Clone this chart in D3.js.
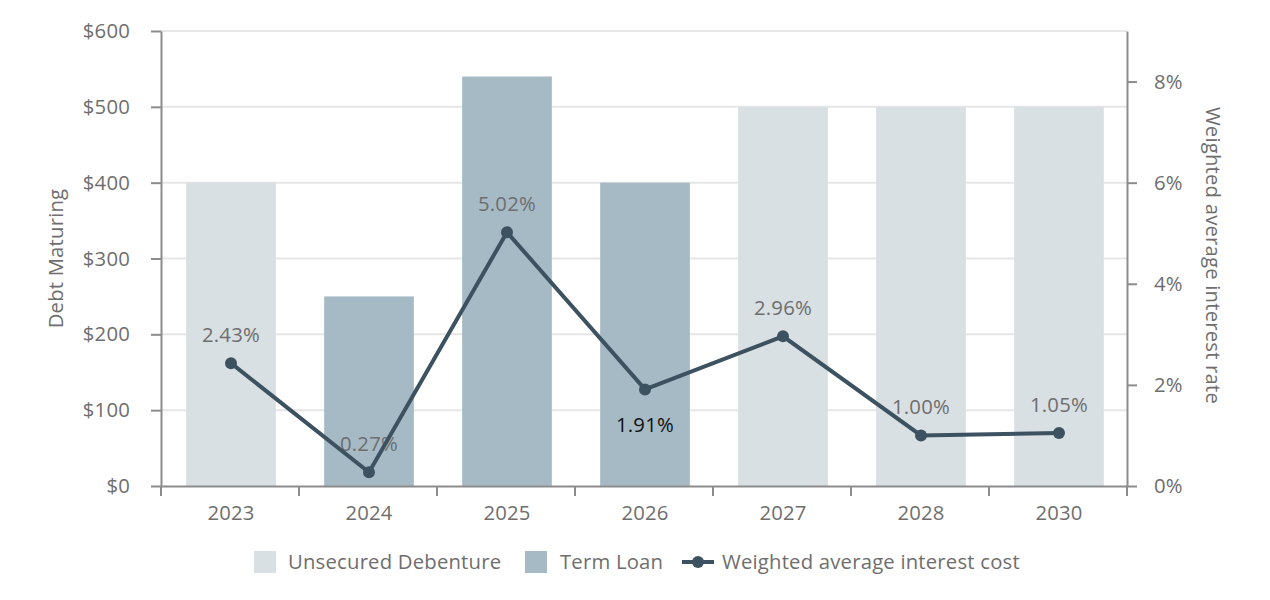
<!DOCTYPE html>
<html>
<head>
<meta charset="utf-8">
<script src="https://cdn.jsdelivr.net/npm/d3@7"></script>
<style>
  body { margin: 0; background: #fff; }
  text { font-family: "Open Sans", Lato, sans-serif; letter-spacing: 0.2px; }
</style>
</head>
<body>
<svg id="chart" width="1270" height="600"></svg>
<script>
const years = ["2023", "2024", "2025", "2026", "2027", "2028", "2030"];
const debtType = ["Unsecured Debenture", "Term Loan", "Term Loan", "Term Loan", "Unsecured Debenture", "Unsecured Debenture", "Unsecured Debenture"];
const debtAmount = [400, 250, 540, 400, 500, 500, 500];
const rates = [2.43, 0.27, 5.02, 1.91, 2.96, 1.00, 1.05];
const debtTicks = [0, 100, 200, 300, 400, 500, 600];
const rateTicks = [0, 2, 4, 6, 8];

const colors = { "Unsecured Debenture": "#d9e0e3", "Term Loan": "#a6bac6" };
const lineColor = "#3d5261";
const textColor = "#6e6e6e";
const fontSize = 20.3;

const svg = d3.select("#chart");
const margin = { top: 31, right: 143, bottom: 114, left: 161 };
const width = 1270 - margin.left - margin.right;
const height = 600 - margin.top - margin.bottom;

const g = svg.append("g").attr("transform", `translate(${margin.left},${margin.top})`);

const x = d3.scaleBand().domain(years).range([0, width]).paddingInner(0.35).paddingOuter(0.175);
const y = d3.scaleLinear().domain([0, 600]).range([height, 0]);
const yR = d3.scaleLinear().domain([0, 9]).range([height, 0]);

// grid
g.selectAll(".grid")
  .data(debtTicks.slice(1))
  .join("line")
  .attr("x1", 0)
  .attr("x2", width)
  .attr("y1", (d) => y(d))
  .attr("y2", (d) => y(d))
  .attr("stroke", "#e6e6e6")
  .attr("stroke-width", 2);

// bars
g.selectAll(".bar")
  .data(years)
  .join("rect")
  .attr("x", (d) => x(d) + 1)
  .attr("width", x.bandwidth())
  .attr("y", (d, i) => y(debtAmount[i]))
  .attr("height", (d, i) => height - y(debtAmount[i]))
  .attr("fill", (d, i) => colors[debtType[i]]);

// value labels (drawn under the line)
g.selectAll(".lbl")
  .data(years)
  .join("text")
  .attr("x", (d) => x(d) + x.bandwidth() / 2 + 1)
  .attr("y", (d, i) => (i === 3 ? yR(rates[i]) + 43 : yR(rates[i]) - 21))
  .attr("text-anchor", "middle")
  .attr("font-size", fontSize)
  .attr("fill", (d, i) => (i === 3 ? "#111" : textColor))
  .text((d, i) => rates[i].toFixed(2) + "%");

// line
const line = d3.line()
  .x((d, i) => x(years[i]) + x.bandwidth() / 2 + 1)
  .y((d) => yR(d));
g.append("path")
  .datum(rates)
  .attr("d", line)
  .attr("fill", "none")
  .attr("stroke", lineColor)
  .attr("stroke-width", 4);
g.selectAll(".dot")
  .data(rates)
  .join("circle")
  .attr("cx", (d, i) => x(years[i]) + x.bandwidth() / 2 + 1)
  .attr("cy", (d) => yR(d))
  .attr("r", 6)
  .attr("fill", lineColor);

// axes
function styleAxis(sel) {
  sel.selectAll("path, line").attr("stroke", "#8c8c8c").attr("stroke-width", 2);
  sel.selectAll("text").attr("fill", textColor).attr("font-size", fontSize).style("font-family", "'Open Sans', sans-serif");
}

const leftAxis = g.append("g")
  .call(d3.axisLeft(y).tickValues(debtTicks).tickFormat((d) => "$" + d).tickSize(10).tickSizeOuter(0).tickPadding(21));
styleAxis(leftAxis);

const rightAxis = g.append("g")
  .attr("transform", `translate(${width},0)`)
  .call(d3.axisRight(yR).tickValues(rateTicks).tickFormat((d) => d + "%").tickSize(10).tickSizeOuter(0).tickPadding(17));
styleAxis(rightAxis);

const bottomAxis = g.append("g")
  .attr("transform", `translate(0,${height})`)
  .call(d3.axisBottom(x).tickSize(0).tickSizeOuter(0).tickPadding(20));
styleAxis(bottomAxis);
bottomAxis.selectAll(".tick text").attr("dx", 1);
bottomAxis.selectAll(".tick line").remove();
const step = x.step();
bottomAxis.selectAll(".sep")
  .data(d3.range(years.length + 1))
  .join("line")
  .attr("x1", (d) => d * step)
  .attr("x2", (d) => d * step)
  .attr("y1", 0)
  .attr("y2", 10)
  .attr("stroke", "#8c8c8c")
  .attr("stroke-width", 2);

// axis titles
svg.append("text")
  .attr("transform", `translate(63,${margin.top + height / 2}) rotate(-90)`)
  .attr("text-anchor", "middle")
  .attr("font-size", fontSize)
  .attr("fill", textColor)
  .text("Debt Maturing");
svg.append("text")
  .attr("transform", `translate(1206,${margin.top + height / 2 - 3}) rotate(90)`)
  .attr("text-anchor", "middle")
  .attr("font-size", fontSize)
  .attr("fill", textColor)
  .text("Weighted average interest rate");

// legend
const legend = svg.append("g").attr("transform", "translate(0,562)");
legend.append("rect").attr("x", 254).attr("y", -11).attr("width", 22).attr("height", 22).attr("fill", colors["Unsecured Debenture"]);
legend.append("text").attr("x", 288).attr("y", 7).attr("font-size", fontSize).attr("fill", textColor).text("Unsecured Debenture");
legend.append("rect").attr("x", 525).attr("y", -11).attr("width", 22).attr("height", 22).attr("fill", colors["Term Loan"]);
legend.append("text").attr("x", 560).attr("y", 7).attr("font-size", fontSize).attr("fill", textColor).text("Term Loan");
legend.append("line").attr("x1", 682).attr("x2", 714).attr("y1", 0).attr("y2", 0).attr("stroke", lineColor).attr("stroke-width", 4);
legend.append("circle").attr("cx", 698).attr("cy", 0).attr("r", 6).attr("fill", lineColor);
legend.append("text").attr("x", 722).attr("y", 7).attr("font-size", fontSize).attr("fill", textColor).text("Weighted average interest cost");
</script>
</body>
</html>
